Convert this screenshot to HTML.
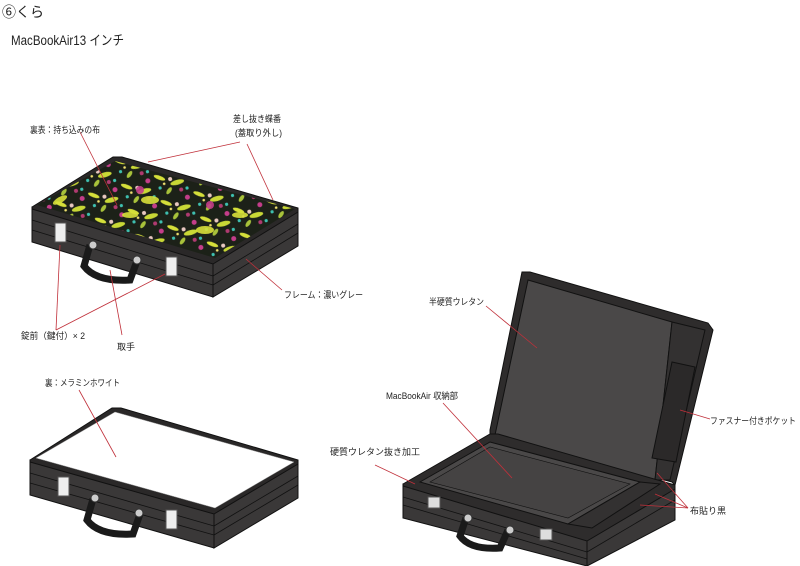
<!DOCTYPE html>
<html><head><meta charset="utf-8"><style>
html,body{margin:0;padding:0;background:#fff;}
svg{display:block;}
text{font-family:"Liberation Sans","Noto Sans CJK JP",sans-serif;fill:#222;}
</style></head><body>
<svg width="800" height="566" viewBox="0 0 800 566" xmlns="http://www.w3.org/2000/svg">
<defs>
<clipPath id="tp"><polygon points="37,205 115,161 295,209 215,258"/></clipPath>
<pattern id="fl" width="34" height="26" patternUnits="userSpaceOnUse" patternTransform="rotate(-15)">
<rect width="34" height="26" fill="#1c2118"/>
<ellipse cx="6" cy="5" rx="6" ry="2" fill="#d5df3a" transform="rotate(35 6 5)"/>
<ellipse cx="22" cy="14" rx="7" ry="2.5" fill="#c9d836"/>
<ellipse cx="12" cy="20" rx="4" ry="2" fill="#a8c23a" transform="rotate(-40 12 20)"/>
<circle cx="28" cy="5" r="2.5" fill="#c43d8a"/>
<circle cx="16" cy="9" r="2" fill="#e8c8c0"/>
<circle cx="4" cy="15" r="1.6" fill="#3ec0b0"/>
<circle cx="30" cy="22" r="1.6" fill="#3ec0b0"/>
<circle cx="24" cy="22" r="2" fill="#b03a70"/>
<circle cx="9" cy="12" r="1.3" fill="#f0e070"/>
</pattern>
</defs>
<text x="2" y="17" font-size="14">⑥くら</text>
<text x="11" y="45" font-size="13.5" textLength="113" lengthAdjust="spacingAndGlyphs">MacBookAir13 インチ</text>

<!-- Case 1 -->
<g stroke="#111" stroke-width="1">
<polygon points="32,207 32,242 213,297 213,262" fill="#3a3838"/>
<polygon points="213,262 298,210 298,246 213,297" fill="#3a3838"/>
<polygon points="32,207 113,157 122,157 298,208 298,212 213,264 32,209" fill="#2a2828"/>
</g>
<polygon points="37,205 115,161 295,209 215,258" fill="url(#fl)"/>
<g clip-path="url(#tp)" opacity="0.9">
<g fill="#d9e03a">
<ellipse cx="60" cy="200" rx="8" ry="3" transform="rotate(-30 60 200)"/><ellipse cx="150" cy="200" rx="9" ry="4"/><ellipse cx="205" cy="230" rx="9" ry="4"/><ellipse cx="240" cy="215" rx="8" ry="3"/><ellipse cx="130" cy="215" rx="8" ry="3"/>
</g>
<g fill="#c43d8a"><circle cx="140" cy="190" r="4"/><circle cx="210" cy="205" r="4"/></g>
</g>
<g stroke="#111" stroke-width="0.8" fill="none">
<line x1="32" y1="220" x2="213" y2="276"/><line x1="32" y1="230" x2="213" y2="285"/>
<line x1="213" y1="276" x2="298" y2="224"/><line x1="213" y1="285" x2="298" y2="233"/>
</g>
<rect x="55" y="223" width="11" height="19" fill="#eee" stroke="#555"/>
<rect x="166" y="257" width="11" height="19" fill="#eee" stroke="#555"/>
<path d="M90,245 L84,266 Q96,282 130,280 L137,261" fill="none" stroke="#1a1a1a" stroke-width="7"/>
<circle cx="93" cy="245" r="4" fill="#ccc" stroke="#333"/><circle cx="137" cy="260" r="4" fill="#ccc" stroke="#333"/>

<!-- Case 2 -->
<g stroke="#111" stroke-width="1">
<polygon points="30,460 30,495 214,548 214,512" fill="#3a3838"/>
<polygon points="214,512 298,462 298,498 214,548" fill="#3a3838"/>
<polygon points="30,460 112,408 121,408 298,460 298,464 214,514 30,462" fill="#2a2828"/>
</g>
<polygon points="36,458 115,412 294,462 215,508" fill="#fff" stroke="#999" stroke-width="0.5"/>
<g stroke="#111" stroke-width="0.8" fill="none">
<line x1="30" y1="473" x2="214" y2="526"/><line x1="30" y1="483" x2="214" y2="535"/>
<line x1="214" y1="526" x2="298" y2="476"/><line x1="214" y1="535" x2="298" y2="485"/>
</g>
<rect x="58" y="477" width="11" height="19" fill="#eee" stroke="#555"/>
<rect x="166" y="510" width="11" height="19" fill="#eee" stroke="#555"/>
<path d="M93,499 L87,520 Q99,536 133,534 L140,514" fill="none" stroke="#1a1a1a" stroke-width="7"/>
<circle cx="95" cy="498" r="4" fill="#ccc" stroke="#333"/><circle cx="139" cy="513" r="4" fill="#ccc" stroke="#333"/>

<!-- Case 3 open -->
<g stroke="#111" stroke-width="1">
<polygon points="522,272 530,272 708,323 713,330 675,485 672,482 490,434 490,430" fill="#2e2c2c"/>
<polygon points="528,280 672,322 655,480 495,435" fill="#4a4848"/>
<polygon points="672,322 705,330 670,480 655,480" fill="#333131"/>
<polygon points="672,362 695,367 676,462 652,458" fill="#2b2929"/>
<polygon points="403,484 403,518 587,566 587,540" fill="#3a3838"/>
<polygon points="587,540 675,488 675,520 587,566" fill="#3a3838"/>
<polygon points="403,484 490,434 498,434 675,485 675,489 587,541 403,486" fill="#2e2c2c"/>
<polygon points="420,482 490,442 640,482 568,524" fill="#4a4848"/>
<polygon points="430,482 490,447 630,484 568,518" fill="#454343" stroke-width="0.6"/>
<polygon points="640,482 660,484 592,528 568,524" fill="#333131"/>
</g>
<g stroke="#111" stroke-width="0.8" fill="none">
<line x1="403" y1="497" x2="587" y2="552"/><line x1="403" y1="505" x2="587" y2="559"/>
<line x1="587" y1="552" x2="675" y2="500"/>
</g>
<rect x="428" y="497" width="12" height="11" fill="#ddd" stroke="#555"/>
<rect x="540" y="529" width="12" height="11" fill="#ddd" stroke="#555"/>
<path d="M466,518 L460,536 Q470,550 500,548 L508,530" fill="none" stroke="#1a1a1a" stroke-width="7"/>
<circle cx="468" cy="518" r="4" fill="#ccc" stroke="#333"/><circle cx="510" cy="530" r="4" fill="#ccc" stroke="#333"/>

<!-- leader lines -->
<g stroke="#c0303a" stroke-width="0.8" fill="none">
<line x1="80" y1="132" x2="117" y2="205"/>
<line x1="148" y1="162" x2="240" y2="142"/><line x1="247" y1="144" x2="273" y2="200"/>
<line x1="246" y1="259" x2="282" y2="290"/>
<line x1="60" y1="245" x2="56" y2="330"/><line x1="56" y1="330" x2="165" y2="274"/>
<line x1="110" y1="270" x2="122" y2="335"/>
<line x1="79" y1="390" x2="116" y2="457"/>
<line x1="486" y1="306" x2="537" y2="348"/>
<line x1="680" y1="410" x2="710" y2="419"/>
<line x1="443" y1="403" x2="512" y2="478"/>
<line x1="375" y1="465" x2="415" y2="484"/>
<line x1="657" y1="473" x2="688" y2="508"/><line x1="655" y1="494" x2="688" y2="508"/><line x1="640" y1="505" x2="688" y2="508"/>
</g>

<g font-size="9">
<text x="30" y="133" textLength="70" lengthAdjust="spacingAndGlyphs">裏表：持ち込みの布</text>
<text x="233" y="122" textLength="48" lengthAdjust="spacingAndGlyphs">差し抜き蝶番</text>
<text x="235" y="136" textLength="47" lengthAdjust="spacingAndGlyphs">(蓋取り外し)</text>
<text x="284" y="298" textLength="79" lengthAdjust="spacingAndGlyphs">フレーム：濃いグレー</text>
<text x="21" y="339" textLength="64" lengthAdjust="spacingAndGlyphs">錠前（鍵付）× 2</text>
<text x="117" y="350">取手</text>
<text x="45" y="386" textLength="75" lengthAdjust="spacingAndGlyphs">裏：メラミンホワイト</text>
<text x="429" y="305" textLength="55" lengthAdjust="spacingAndGlyphs">半硬質ウレタン</text>
<text x="386" y="399" textLength="72" lengthAdjust="spacingAndGlyphs">MacBookAir 収納部</text>
<text x="330" y="455" textLength="90" lengthAdjust="spacingAndGlyphs">硬質ウレタン抜き加工</text>
<text x="710" y="424" textLength="86" lengthAdjust="spacingAndGlyphs">ファスナー付きポケット</text>
<text x="690" y="514">布貼り黒</text>
</g>
</svg>
</body></html>
